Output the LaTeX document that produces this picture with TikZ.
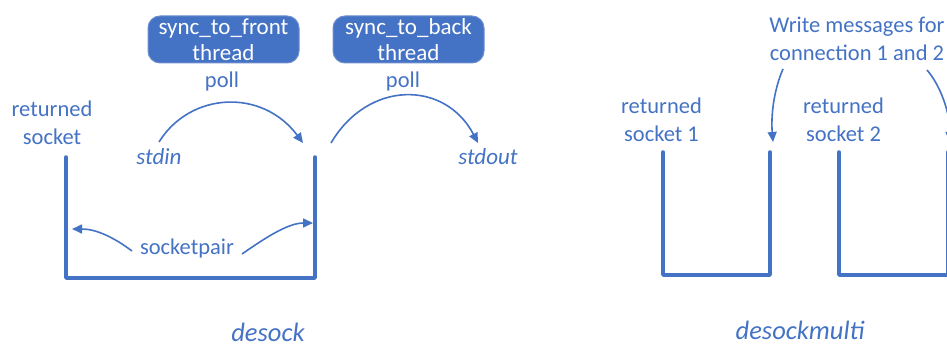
\documentclass[tikz,border=0pt]{standalone}
\usepackage{fontspec}
\setmainfont{Carlito}
\usetikzlibrary{arrows.meta}
\definecolor{cblue}{HTML}{4472C4}
\definecolor{cborder}{HTML}{6E8FCC}
\tikzset{
  lbl/.style={text=cblue, font=\fontsize{22.5}{28}\selectfont, align=center, inner sep=0pt},
  ilbl/.style={lbl, font=\fontsize{23}{28}\selectfont\itshape},
  biglbl/.style={lbl, font=\fontsize{26.5}{30}\selectfont\itshape},
  threadbox/.style={fill=cblue, draw=cborder, line width=1pt, rounded corners=12pt,
    text=white, font=\fontsize{23}{26}\selectfont, align=center, inner sep=0pt,
    minimum width=151pt, minimum height=47pt},
  sockline/.style={draw=cblue, line width=3.5pt, line cap=round, line join=round},
  conn/.style={draw=cblue, line width=1.6pt, -{Triangle[length=10pt,width=9pt]}}
}
\begin{document}
\begin{tikzpicture}[x=1pt,y=-1pt]
\useasboundingbox (0,0) rectangle (947,347);
\clip (0,0) rectangle (947,347);
% left part: desock
\node[threadbox] (front) at (223.5,39.5) {sync\_to\_front\\thread};
\node[threadbox] (back) at (408.5,39.5) {sync\_to\_back\\thread};
\node[lbl] (poll1) at (222,82) {poll};
\node[lbl] (poll2) at (403,82) {poll};
\node[lbl] (ret) at (52,123) {returned\\socket};
\node[ilbl] (stdin) at (159,157) {stdin};
\node[ilbl] (stdout) at (488,157) {stdout};
\node[lbl] (sp) at (187,249) {socketpair};
\node[biglbl] (desock) at (268,332) {desock};
\coordinate (L1) at (66,157);
\coordinate (L2) at (66,278);
\coordinate (R2) at (315,278);
\coordinate (R1) at (315,157);
\draw[sockline] (L1) -- (L2) -- (R2) -- (R1);
\coordinate (a1s) at (159,142);
\coordinate (a1e) at (303,143);
\coordinate (a2s) at (331,143);
\coordinate (a2e) at (478,143);
\draw[conn] (a1s) .. controls (190,92) and (262,88) .. (a1e);
\draw[conn] (a2s) .. controls (368,80) and (445,80) .. (a2e);
\coordinate (spl) at (132,251);
\coordinate (spr) at (242,254);
\coordinate (tl) at (72,229);
\coordinate (tr) at (313,223);
\draw[conn] (spl) .. controls (112,236) and (95,229) .. (tl);
\draw[conn] (spr) .. controls (265,238) and (288,223) .. (tr);
% right part: desockmulti
\node[lbl] (ret1) at (661.5,120) {returned\\socket 1};
\node[lbl] (ret2) at (843.5,120) {returned\\socket 2};
\node[lbl] (write) at (857,39) {Write messages for\\connection 1 and 2};
\node[biglbl] (dm) at (800,330) {desockmulti};
\coordinate (u1a) at (663,152);
\coordinate (u1b) at (663,275);
\coordinate (u1c) at (770,275);
\coordinate (u1d) at (770,152);
\draw[sockline] (u1a) -- (u1b) -- (u1c) -- (u1d);
\coordinate (u2a) at (839,152);
\coordinate (u2b) at (839,275);
\coordinate (u2c) at (948,275);
\coordinate (u2d) at (948,152);
\draw[sockline] (u2a) -- (u2b) -- (u2c) -- (u2d);
\coordinate (w1s) at (783,69);
\coordinate (w1e) at (773,142);
\coordinate (w2s) at (927,70);
\coordinate (w2e) at (950,142);
\draw[conn] (w1s) .. controls (773,92) and (771,118) .. (w1e);
\draw[conn] (w2s) .. controls (940,85) and (950,112) .. (w2e);
\end{tikzpicture}
\end{document}
